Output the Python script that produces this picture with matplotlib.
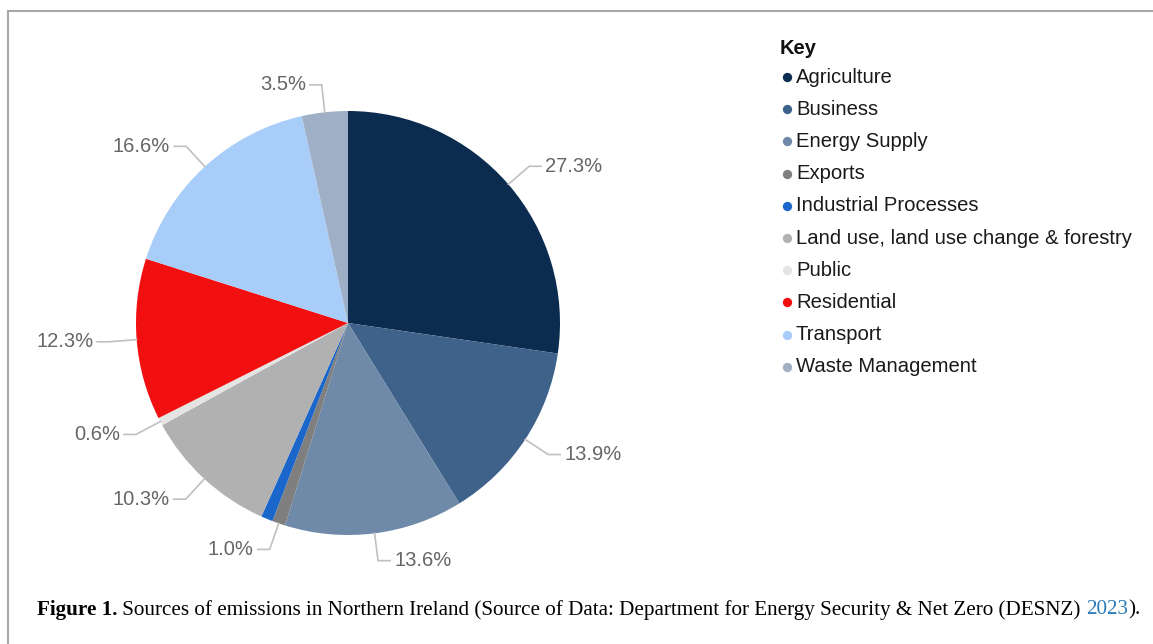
import numpy as np
import matplotlib.pyplot as plt
from matplotlib.lines import Line2D

# Emisiones por sector, en porcentaje
sectores = ['Agriculture', 'Business', 'Energy Supply', 'Exports',
            'Industrial Processes', 'Land use, land use change & forestry',
            'Public', 'Residential', 'Transport', 'Waste Management']
porcentajes = [27.3, 13.9, 13.6, 1.0, 0.9, 10.3, 0.6, 12.3, 16.6, 3.5]
colores = ['#0b2b4f', '#3e6289', '#6f8aa9', '#7f7f7f', '#1a66ca',
           '#b1b1b1', '#e4e4e4', '#f20f0f', '#a9cdf9', '#9fb0c6']
# etiquetas que se muestran (la de Industrial Processes queda oculta)
mostrar = [True, True, True, True, False, True, True, True, True, True]

pie_txt = '#666666'
guia = '#c0c0c0'

W, H = 1153, 644
fig = plt.figure(figsize=(W / 100, H / 100), dpi=100)
ax = fig.add_axes([0, 0, 1, 1])

# centro y radio de la torta en coordenadas de pixel
cx, cy, R = 348, H - 323, 212

ax.pie(porcentajes, colors=colores, startangle=90, counterclock=False,
       center=(cx, cy), radius=R, wedgeprops=dict(linewidth=0))

ax.set_xlim(0, W)
ax.set_ylim(0, H)
ax.set_aspect('equal')
ax.axis('off')

# etiquetas con linea guia quebrada
total = sum(porcentajes)
acum = 0
for valor, ver in zip(porcentajes, mostrar):
    medio = acum + valor / 2
    acum += valor
    if not ver:
        continue
    ang = np.deg2rad(90 - 360 * medio / total)
    x0, y0 = cx + R * np.cos(ang), cy + R * np.sin(ang)
    x1, y1 = cx + 1.13 * R * np.cos(ang), cy + 1.13 * R * np.sin(ang)
    lado = 1 if np.cos(ang) >= 0 else -1
    x2 = x1 + lado * 12
    ax.plot([x0, x1, x2], [y0, y1, y1], color=guia, lw=1.2,
            solid_joinstyle='miter')
    ax.text(x2 + lado * 4, y1, f'{valor:.1f}%', color=pie_txt,
            fontsize=14.5, family='Liberation Sans',
            ha='left' if lado > 0 else 'right', va='center')

# leyenda
ax.text(780, H - 48, 'Key', fontsize=14.5, fontweight='bold',
        family='Liberation Sans', color='#111111', va='center')
for i, (nombre, c) in enumerate(zip(sectores, colores)):
    y = H - (77 + i * 32.2)
    ax.scatter([787], [y], s=45, color=c, linewidths=0)
    ax.text(796, y, nombre, fontsize=14.6, family='Liberation Sans',
            color='#1a1a1a', va='center')

# marco
fig.add_artist(Line2D([8, 8], [0, H - 11], transform=None,
                      color='#a8a8a8', lw=1.5))
fig.add_artist(Line2D([8, W], [H - 11, H - 11], transform=None,
                      color='#a8a8a8', lw=1.5))

# pie de figura, armado por tramos
tramos = [('Figure 1.', 'bold', 'black'),
          (' Sources of emissions in Northern Ireland (Source of Data: '
           'Department for Energy Security & Net Zero (DESNZ) ', 'normal', 'black'),
          ('2023', 'normal', '#2b7bb9'),
          (').', 'normal', 'black')]
fig.canvas.draw()
rend = fig.canvas.get_renderer()
x = 37
for txt, peso, col in tramos:
    t = ax.text(x, H - 610, txt, fontsize=15.2, family='Liberation Serif',
                fontweight=peso, color=col, va='center', ha='left')
    bb = t.get_window_extent(renderer=rend)
    x += bb.width

fig.savefig('out.png', dpi=100)
